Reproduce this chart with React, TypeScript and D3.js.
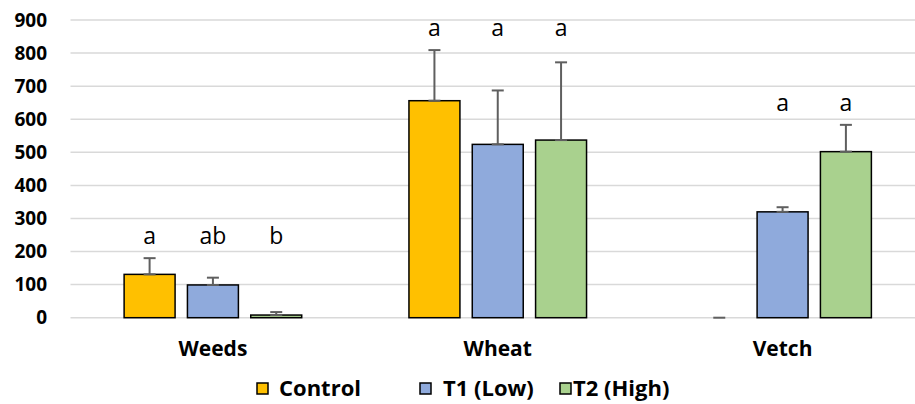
import * as d3 from 'd3';
import React from 'react';

const categories = ['Weeds', 'Wheat', 'Vetch'];
const seriesNames = ['Control', 'T1 (Low)', 'T2 (High)'];
const controlValues = [131, 656, 0];
const t1Values = [99, 524, 320];
const t2Values = [8, 537, 502];
const controlErrors = [49, 153, 0];
const t1Errors = [22, 163, 14];
const t2Errors = [9, 235, 81];
const controlLetters = ['a', 'a', ''];
const t1Letters = ['ab', 'a', 'a'];
const t2Letters = ['b', 'a', 'a'];
const yTicks = [0, 100, 200, 300, 400, 500, 600, 700, 800, 900];
const colors = ['#FFC000', '#8FAADC', '#A9D18E'];

const values = [controlValues, t1Values, t2Values];
const errors = [controlErrors, t1Errors, t2Errors];
const letters = [controlLetters, t1Letters, t2Letters];

const width = 915;
const height = 404;
const font = "'Open Sans', sans-serif";

const App = () => {
  const x0 = d3.scaleBand().domain(categories).range([70.5, 925]).padding(0);
  const x1 = d3
    .scaleBand()
    .domain(seriesNames)
    .range([-88.8, 88.8])
    .paddingInner(0.195)
    .paddingOuter(0);
  const y = d3.scaleLinear().domain([0, 900]).range([317.7, 20]);

  const gridRight = 915;

  return (
    <svg
      width={width}
      height={height}
      style={{ position: 'absolute', left: 0, top: 0, background: '#fff' }}
    >
      <g className="grid">
        {yTicks.map(t => (
          <line
            key={t}
            x1={70.5}
            x2={gridRight}
            y1={y(t)}
            y2={y(t)}
            stroke="#d9d9d9"
            strokeWidth={1.5}
          />
        ))}
      </g>
      <g className="y-axis">
        {yTicks.map(t => (
          <text
            key={t}
            x={47}
            y={y(t)}
            dy="0.35em"
            textAnchor="end"
            fontFamily={font}
            fontWeight="bold"
            fontSize={19}
            fill="#000"
          >
            {t}
          </text>
        ))}
      </g>
      <g className="bars">
        {seriesNames.map((s, si) =>
          categories.map((c, ci) => {
            const v = values[si][ci];
            const bx = (x0(c) as number) + x0.bandwidth() / 2 + (x1(s) as number);
            if (v <= 0) return null;
            return (
              <rect
                key={s + c}
                x={bx}
                y={y(v)}
                width={x1.bandwidth()}
                height={y(0) - y(v)}
                fill={colors[si]}
                stroke="#000"
                strokeWidth={1.5}
              />
            );
          })
        )}
      </g>
      <g className="errors">
        {seriesNames.map((s, si) =>
          categories.map((c, ci) => {
            const v = values[si][ci];
            const e = errors[si][ci];
            const cx =
              (x0(c) as number) +
              x0.bandwidth() / 2 +
              (x1(s) as number) +
              x1.bandwidth() / 2;
            return (
              <g key={s + c} stroke="#5f5f5f" strokeWidth={2}>
                <line x1={cx} x2={cx} y1={y(v)} y2={y(v + e)} />
                <line x1={cx - 6} x2={cx + 6} y1={y(v + e)} y2={y(v + e)} />
                {v > 0 && (
                  <line x1={cx - 6} x2={cx + 6} y1={y(v)} y2={y(v)} />
                )}
              </g>
            );
          })
        )}
      </g>
      <g className="letters">
        {categories.map((c, ci) => {
          const top = d3.max(seriesNames, (_, si) => values[si][ci] + errors[si][ci]) as number;
          return seriesNames.map((s, si) => {
            const cx =
              (x0(c) as number) +
              x0.bandwidth() / 2 +
              (x1(s) as number) +
              x1.bandwidth() / 2;
            return (
              <text
                key={s + c}
                x={cx}
                y={y(top) - 14}
                textAnchor="middle"
                fontFamily={font}
                fontSize={23}
                fill="#000"
              >
                {letters[si][ci]}
              </text>
            );
          });
        })}
      </g>
      <g className="x-axis">
        {categories.map(c => (
          <text
            key={c}
            x={(x0(c) as number) + x0.bandwidth() / 2}
            y={356}
            textAnchor="middle"
            fontFamily={font}
            fontWeight="bold"
            fontSize={21}
            fill="#000"
          >
            {c}
          </text>
        ))}
      </g>
      <g className="legend">
        {seriesNames.map((s, si) => {
          const lx = [257, 420, 560][si];
          const tx = [279, 443, 573][si];
          return (
            <g key={s}>
              <rect
                x={lx}
                y={383}
                width={11}
                height={11}
                fill={colors[si]}
                stroke="#000"
                strokeWidth={1.5}
              />
              <text
                x={tx}
                y={396}
                fontFamily={font}
                fontWeight="bold"
                fontSize={22}
                fill="#000"
              >
                {s}
              </text>
            </g>
          );
        })}
      </g>
    </svg>
  );
};

export default App;
